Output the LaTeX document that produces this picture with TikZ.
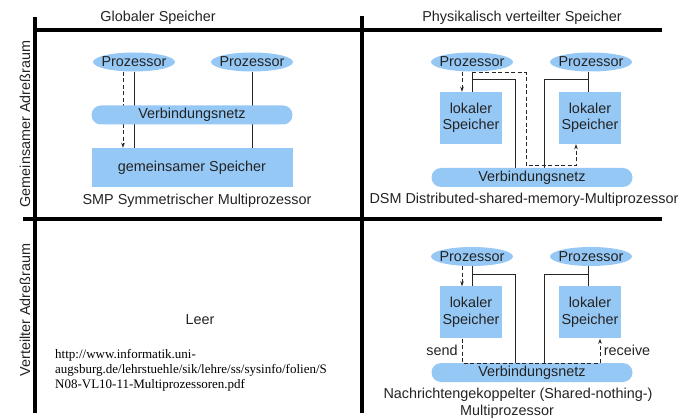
\documentclass[tikz,border=0pt]{standalone}
\usepackage{fontspec}
\setmainfont{Liberation Sans}
\newfontfamily\serifurl{Liberation Serif}
\usetikzlibrary{shapes.geometric,arrows.meta,backgrounds,calc}
\definecolor{boxblue}{RGB}{150,200,245}
\definecolor{txt}{RGB}{35,35,35}
\begin{document}
\begin{tikzpicture}[x=1pt,y=-1pt, font=\fontsize{14.4}{16.5}\selectfont, text=txt,
 proc/.style={ellipse, fill=boxblue, minimum width=82pt, minimum height=19pt, inner xsep=-6pt, inner ysep=0pt},
 netz/.style={rectangle, rounded corners=9.5pt, fill=boxblue, minimum width=201pt, minimum height=19pt, inner sep=0pt},
 mem/.style={rectangle, fill=boxblue, minimum width=62pt, minimum height=52pt, inner sep=0pt, align=center},
 gmem/.style={rectangle, fill=boxblue, minimum width=201pt, minimum height=39pt, inner sep=0pt},
 frameline/.style={line width=3.5pt, black},
 conn/.style={line width=1pt, black!85},
 dconn/.style={line width=1pt, black!85, dash pattern=on 4pt off 2.5pt},
 darr/.style={dconn, -{Stealth[length=5pt,width=3.5pt]}},
 lbl/.style={inner sep=0pt}
]
\useasboundingbox (0,0) rectangle (693,419);
% frame
\draw[frameline] (35,17) -- (35,413);
\draw[frameline] (362,16) -- (362,413);
\draw[frameline] (35,30) -- (662,30);
\draw[frameline] (23,219) -- (662,219);
% headings
\node[lbl] (h1) at (158,18) {Globaler Speicher};
\node[lbl] (h2) at (522,18) {Physikalisch verteilter Speicher};
\node[lbl, rotate=90] (v1) at (25,124) {Gemeinsamer Adreßraum};
\node[lbl, rotate=90] (v2) at (25,310) {Verteilter Adreßraum};

% ---------- SMP ----------
\node[proc] (a1) at (134,62) {Prozessor};
\node[proc] (a2) at (252,62) {Prozessor};
\node[netz] (an) at (192,115) {Verbindungsnetz};
\node[gmem] (am) at (192,167.5) {gemeinsamer Speicher};
\node[lbl] (at) at (197,201) {SMP Symmetrischer Multiprozessor};
\begin{scope}[on background layer]
\draw[conn] (a1.south) -- (a1.south |- am.north);
\draw[conn] (a2.south) -- (a2.south |- am.north);
\draw[darr] ([xshift=-11pt]a1.south) -- ([xshift=-11pt]a1.south |- am.north);
\end{scope}

% ---------- DSM ----------
\node[proc] (b1) at (472,62) {Prozessor};
\node[proc] (b2) at (591,62) {Prozessor};
\node[mem] (bm1) at (471,118) {lokaler\\Speicher};
\node[mem] (bm2) at (590,118) {lokaler\\Speicher};
\node[netz] (bn) at (532,177.5) {Verbindungsnetz};
\node[lbl] (bt) at (524,200) {DSM Distributed-shared-memory-Multiprozessor};
\coordinate (bk1) at (515,80);
\coordinate (bk2) at (544,80);
\coordinate (bd1) at (526,73);
\coordinate (bd2) at (526,166);
\begin{scope}[on background layer]
\draw[conn] (b1.south) -- (b1.south |- bm1.north);
\draw[conn] (b1.south |- bk1) -- (bk1) -- (bk1 |- bn.north);
\draw[conn] ([xshift=-3pt]b2.south) -- ([xshift=-3pt]b2.south |- bm2.north);
\draw[conn] ([xshift=-3pt]b2.south |- bk2) -- (bk2) -- (bk2 |- bn.north);
\draw[darr] ([xshift=-10pt]b1.south) -- ([xshift=-10pt]b1.south |- bm1.north);
\end{scope}
\draw[darr] (b1.south |- bd1) -- (bd1) -- (bd2) -| ([xshift=-14pt]bm2.south);

% ---------- Message passing ----------
\node[proc] (c1) at (472,256.5) {Prozessor};
\node[proc] (c2) at (591,256.5) {Prozessor};
\node[mem] (cm1) at (471,312.5) {lokaler\\Speicher};
\node[mem] (cm2) at (590,312.5) {lokaler\\Speicher};
\node[netz] (cn) at (532,372.5) {Verbindungsnetz};
\node[lbl] (ct1) at (518,395) {Nachrichtengekoppelter (Shared-nothing-)};
\node[lbl] (ct2) at (507,412) {Multiprozessor};
\coordinate (ck1) at (515,275);
\coordinate (ck2) at (544,275);
\coordinate (cd) at (462,363);
\begin{scope}[on background layer]
\draw[conn] (c1.south) -- (c1.south |- cm1.north);
\draw[conn] (c1.south |- ck1) -- (ck1) -- (ck1 |- cn.north);
\draw[conn] ([xshift=-3pt]c2.south) -- ([xshift=-3pt]c2.south |- cm2.north);
\draw[conn] ([xshift=-3pt]c2.south |- ck2) -- (ck2) -- (ck2 |- cn.north);
\draw[darr] ([xshift=-10pt]c1.south) -- ([xshift=-10pt]c1.south |- cm1.north);
\end{scope}
\draw[darr] ([xshift=-9pt]cm1.south) -- ([xshift=-9pt]cm1.south |- cd) -| ([xshift=10pt]cm2.south);
\node[lbl] (send) at (442,350) {send};
\node[lbl] (recv) at (627,350) {receive};

% ---------- Leer ----------
\node[lbl] (leer) at (200,320) {Leer};
\node[lbl, anchor=north west, align=left, text=black,
      font=\serifurl\fontsize{13}{15}\selectfont] (url) at (55,349)
 {http://www.informatik.uni-\\augsburg.de/lehrstuehle/sik/lehre/ss/sysinfo/folien/S\\N08-VL10-11-Multiprozessoren.pdf};
\end{tikzpicture}
\end{document}
